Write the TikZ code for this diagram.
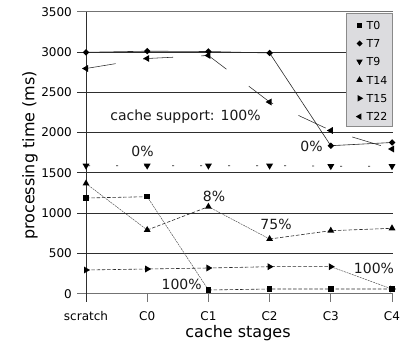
\documentclass[tikz,border=0pt]{standalone}
\usepackage{fontspec}
\setmainfont{DejaVu Sans}
\usetikzlibrary{shapes.geometric}
\definecolor{lgfill}{HTML}{DCDCDF}
\definecolor{lgdraw}{HTML}{8A8A8A}
\definecolor{ln}{HTML}{2A2A2A}
\begin{document}
\begin{tikzpicture}[x=1pt,y=-1pt,
  grid/.style={black!82,line width=0.75pt},
  axisline/.style={black!55,line width=0.9pt},
  mk/.style={fill=black,draw=none,inner sep=0pt,outer sep=0pt},
  sq/.style={mk,rectangle,minimum size=5.5pt},
  dia/.style={mk,diamond,minimum size=6.5pt},
  tri/.style={mk,regular polygon,regular polygon sides=3,minimum size=8pt},
  tup/.style={tri},
  tdown/.style={tri,shape border rotate=180},
  tright/.style={tri,shape border rotate=-90},
  tleft/.style={tri,shape border rotate=90},
  solidln/.style={ln,line width=0.6pt},
  dashln/.style={ln,line width=0.6pt,dash pattern=on 3.5pt off 1.8pt},
  fineln/.style={ln!85,line width=0.45pt,dash pattern=on 2pt off 0.8pt},
  sparseln/.style={ln,line width=0.7pt,dash pattern=on 2pt off 26pt,dash phase=26pt},
  longln/.style={ln,line width=0.55pt,dash pattern=on 30pt off 28pt},
  ticklbl/.style={font=\fontsize{12}{14}\selectfont},
  annot/.style={font=\fontsize{14}{16}\selectfont,text=black!90},
  axlbl/.style={font=\fontsize{16}{18}\selectfont},
  lgtxt/.style={font=\fontsize{11}{13}\selectfont,anchor=west,inner sep=0pt}
]
\useasboundingbox (0,0) rectangle (420,347);
% gridlines
\foreach \v in {0,500,...,3500}
  \draw[grid] (77,{293.7-0.08057*\v}) -- (393,{293.7-0.08057*\v});
\draw[axisline] (77,293.7) -- (393,293.7);
\draw[axisline] (77,11.7) -- (393,11.7);
% y axis
\draw[grid] (86,11.7) -- (86,301.7);
\foreach \x in {147.2,208.4,269.6,330.8,392}
  \draw[axisline] (\x,293.7) -- (\x,301.7);
% y tick labels
\foreach \v in {0,500,...,3500}
  \node[ticklbl,anchor=east,inner sep=0pt] at (72,{293.7-0.08057*\v}) {\v};
% x tick labels
\node[ticklbl] (xs) at (86,316) {scratch};
\node[ticklbl] (x0) at (147.2,316) {C0};
\node[ticklbl] (x1) at (208.4,316) {C1};
\node[ticklbl] (x2) at (269.6,316) {C2};
\node[ticklbl] (x3) at (330.8,316) {C3};
\node[ticklbl] (x4) at (392,316) {C4};
% axis labels
\node[axlbl] (xl) at (238,333) {cache stages};
\node[axlbl,rotate=90] (yl) at (30,155.5) {processing time (ms)};

% data coordinates
\coordinate (a0) at (86,198);   \coordinate (a1) at (147.2,196.7); \coordinate (a2) at (208.4,290);
\coordinate (a3) at (269.6,289);\coordinate (a4) at (330.8,289);   \coordinate (a5) at (392,289);
\coordinate (b0) at (86,52.3);  \coordinate (b1) at (147.2,51.2);  \coordinate (b2) at (208.4,51.5);
\coordinate (b3) at (269.6,53); \coordinate (b4) at (330.8,145.7); \coordinate (b5) at (392,142.5);
\coordinate (c0) at (86,165.7); \coordinate (c1) at (147.2,165.7); \coordinate (c2) at (208.4,165.7);
\coordinate (c3) at (269.6,165.7);\coordinate (c4) at (330.8,166.2);\coordinate (c5) at (392,166.2);
\coordinate (d0) at (86,183.5); \coordinate (d1) at (147.2,230);   \coordinate (d2) at (208.4,206.7);
\coordinate (d3) at (269.6,239);\coordinate (d4) at (330.8,230.7); \coordinate (d5) at (392,228.3);
\coordinate (e0) at (86,270);   \coordinate (e1) at (147.2,269);   \coordinate (e2) at (208.4,268);
\coordinate (e3) at (269.6,266.7);\coordinate (e4) at (330.8,266.7);\coordinate (e5) at (392,289);
\coordinate (f0) at (86,68.5);  \coordinate (f1) at (147.2,58.5);  \coordinate (f2) at (208.4,55.5);
\coordinate (f3) at (269.6,102);\coordinate (f4) at (330.8,130.5); \coordinate (f5) at (392,149);

% lines
\draw[dashln] (a0) -- (a1);
\draw[fineln] (a1) -- (a2);
\draw[dashln] (a2) -- (a3) -- (a4) -- (a5);
\draw[solidln] (b0) -- (b1) -- (b2) -- (b3) -- (b4) -- (b5);
\draw[sparseln] (c0) -- (c1) -- (c2) -- (c3) -- (c4) -- (c5);
\draw[fineln] (d0) -- (d1);
\draw[dashln] (d1) -- (d2);
\draw[fineln] (d2) -- (d3);
\draw[dashln] (d3) -- (d4) -- (d5);
\draw[dashln] (e0) -- (e1) -- (e2) -- (e3) -- (e4);
\draw[fineln] (e4) -- (e5);
\draw[longln] (f0) -- (f1) -- (f2) -- (f3) -- (f4) -- (f5);

% markers
\foreach \i in {0,...,5} {
  \node[sq] (ma\i) at (a\i) {};
  \node[dia] (mb\i) at (b\i) {};
  \node[tdown] (mc\i) at (c\i) {};
  \node[tup] (md\i) at (d\i) {};
  \node[tright] (me\i) at (e\i) {};
  \node[tleft] (mf\i) at (f\i) {};
}

% annotations
\node[annot] (l1) at (185.5,117) {cache support: 100\%};
\node[annot] (l2) at (142.5,151) {0\%};
\node[annot] (l3) at (311.5,146) {0\%};
\node[annot] (l4) at (214,196) {8\%};
\node[annot] (l5) at (276,224) {75\%};
\node[annot] (l6) at (374,268) {100\%};
\node[annot] (l7) at (181.7,284) {100\%};

% legend
\draw[lgdraw,fill=lgfill,line width=0.8pt] (346,13.3) rectangle (392.5,126);
\node[sq,minimum size=5pt] (g0) at (359.5,25.2) {};
\node[dia,minimum size=6pt] (g1) at (359.5,43.5) {};
\node[tdown,minimum size=7.5pt] (g2) at (359.5,61.5) {};
\node[tup,minimum size=7.5pt] (g3) at (359.5,80) {};
\node[tright,minimum size=7.5pt] (g4) at (359.5,98.3) {};
\node[tleft,minimum size=7.5pt] (g5) at (359.5,116.6) {};
\node[lgtxt] (h0) at (366.5,25.2) {T0};
\node[lgtxt] (h1) at (366.5,43.5) {T7};
\node[lgtxt] (h2) at (366.5,61.5) {T9};
\node[lgtxt] (h3) at (366.5,80) {T14};
\node[lgtxt] (h4) at (366.5,98.3) {T15};
\node[lgtxt] (h5) at (366.5,116.6) {T22};
\end{tikzpicture}
\end{document}
